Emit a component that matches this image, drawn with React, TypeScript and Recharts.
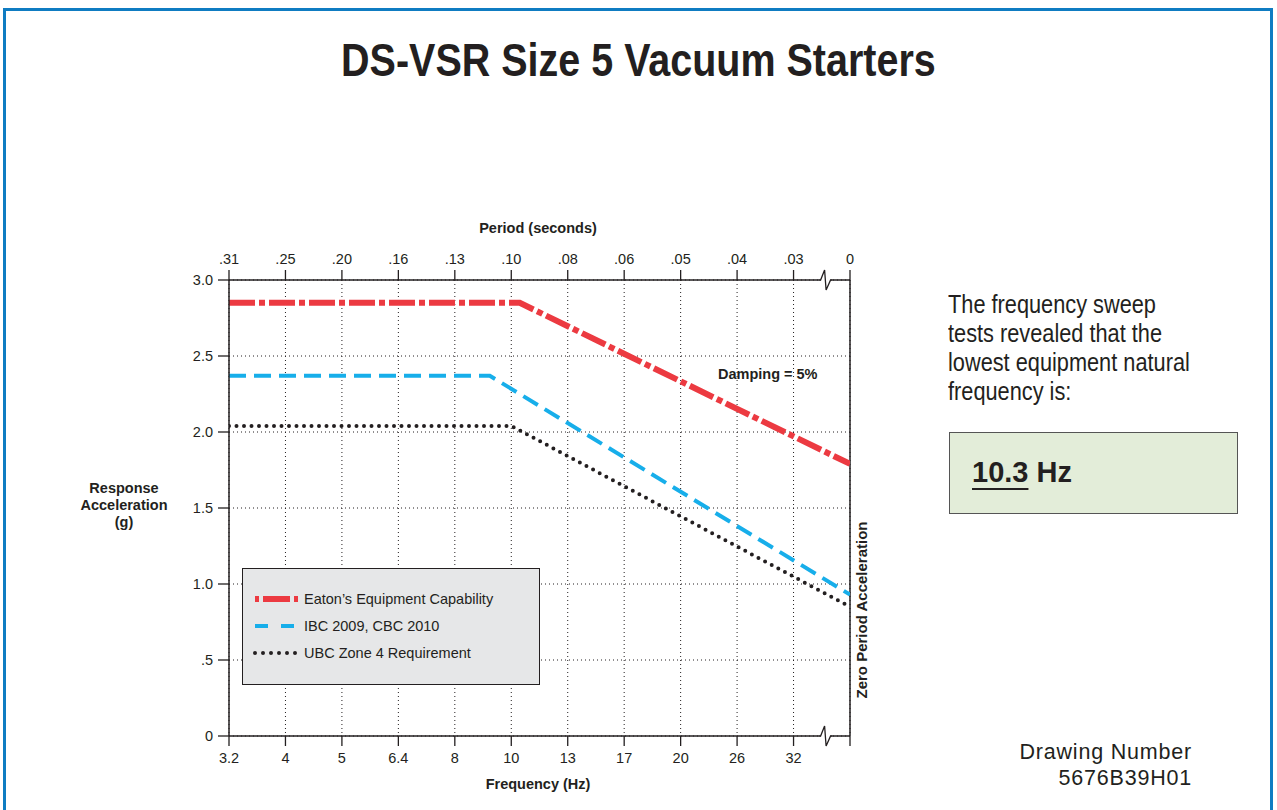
import { LineChart, Line, XAxis, YAxis, CartesianGrid, Legend, ReferenceLine, ReferenceDot } from 'recharts';

// ============================================================================
// Data - x values are positions along the frequency axis (one unit per tick)
// ============================================================================

const freqLabels = ['3.2', '4', '5', '6.4', '8', '10', '13', '17', '20', '26', '32', ''];
const periodLabels = ['.31', '.25', '.20', '.16', '.13', '.10', '.08', '.06', '.05', '.04', '.03', '0'];
const xTicks = freqLabels.map((_, i) => i);
const yTicks = [0, 0.5, 1, 1.5, 2, 2.5, 3];
const axisBreak = 10.55;

const eatonX = [0, 5.15, 11];
const eatonY = [2.85, 2.85, 1.79];
const ibcX = [0, 4.62, 11];
const ibcY = [2.37, 2.37, 0.93];
const ubcX = [0, 5, 11];
const ubcY = [2.04, 2.04, 0.85];

const toPoints = (xs: number[], ys: number[]) => xs.map((x, i) => ({ x, y: ys[i] }));

const series = [
  { name: 'Eaton’s Equipment Capability', data: toPoints(eatonX, eatonY), color: '#ec3a41', width: 6, dash: '26 4 6 4', cap: 'butt', sample: '4 4 27 4 4 60' },
  { name: 'IBC 2009, CBC 2010', data: toPoints(ibcX, ibcY), color: '#17aeea', width: 4, dash: '17 8', cap: 'butt', sample: '13 13' },
  { name: 'UBC Zone 4 Requirement', data: toPoints(ubcX, ubcY), color: '#231f20', width: 4, dash: '0 7.5', cap: 'round', sample: '0 8' },
];

const ink = '#231f20';
const sans = "'Liberation Sans', Arial, Helvetica, sans-serif";

const tickStyle = { fill: ink, fontSize: 14.5, fontFamily: sans };

function AxisBreak(props: any) {
  const { cx, cy } = props;
  return (
    <g>
      <rect x={cx - 4} y={cy - 2} width={10} height={4} fill="#fff" />
      <path d={`M${cx - 5},${cy} L${cx - 4},${cy} L${cx},${cy - 10} L${cx + 1.5},${cy + 10} L${cx + 6},${cy} L${cx + 7},${cy}`} fill="none" stroke={ink} strokeWidth={1.3} />
    </g>
  );
}

function LegendBox() {
  return (
    <div style={{ width: 298, height: 117, background: '#e6e7e8', border: `1.5px solid ${ink}`, boxSizing: 'border-box', paddingTop: 16 }}>
      {series.map((s) => (
        <div key={s.name} style={{ display: 'flex', alignItems: 'center', height: 27, fontFamily: sans, fontSize: 14.5, color: ink }}>
          <svg width={60} height={12} style={{ marginLeft: 10 }}>
            <line x1={2} y1={6} x2={45} y2={6} stroke={s.color} strokeWidth={s.width} strokeDasharray={s.sample} strokeLinecap={s.cap as any} />
          </svg>
          <span style={{ marginLeft: -9 }}>{s.name}</span>
        </div>
      ))}
    </div>
  );
}

export default function App() {
  return (
    <div style={{ position: 'absolute', left: 0, top: 0, width: 1277, height: 810, background: '#fff', overflow: 'hidden', fontFamily: sans, color: ink }}>
      <div style={{ position: 'absolute', left: 3, top: 8, width: 1270, height: 820, borderTop: '3px solid #0f7cc2', borderLeft: '3px solid #0f7cc2', borderRight: '3px solid #0f7cc2', boxSizing: 'border-box' }} />

      <div style={{ position: 'absolute', left: 0, width: 1277, top: 33, textAlign: 'center', fontWeight: 'bold', fontSize: 47, lineHeight: '54px', transform: 'scaleX(0.84)', transformOrigin: '638px 0' }}>
        DS-VSR Size 5 Vacuum Starters
      </div>

      <div style={{ position: 'absolute', left: 0, top: 0 }}>
        <LineChart width={1277} height={810} margin={{ top: 250, right: 427, bottom: 44, left: 189 }}>
          <CartesianGrid strokeDasharray="1 3" stroke={ink} strokeWidth={1} />
          <XAxis
            dataKey="x"
            type="number"
            domain={[0, 11]}
            ticks={xTicks}
            allowDataOverflow
            tickFormatter={(v: number) => freqLabels[v] ?? ''}
            tick={tickStyle}
            tickSize={10}
            tickMargin={7}
            height={30}
            axisLine={{ stroke: ink, strokeWidth: 1.5 }}
            tickLine={{ stroke: ink, strokeWidth: 1.3 }}
          />
          <XAxis
            xAxisId="top"
            orientation="top"
            dataKey="x"
            type="number"
            domain={[0, 11]}
            ticks={xTicks}
            allowDataOverflow
            tickFormatter={(v: number) => periodLabels[v] ?? ''}
            tick={tickStyle}
            tickSize={10}
            tickMargin={6}
            height={30}
            axisLine={{ stroke: ink, strokeWidth: 1.5 }}
            tickLine={{ stroke: ink, strokeWidth: 1.3 }}
          />
          <YAxis
            type="number"
            domain={[0, 3]}
            ticks={yTicks}
            tickFormatter={(v: number) => (v === 0 ? '0' : v < 1 ? '.5' : v.toFixed(1))}
            tick={tickStyle}
            tickSize={11}
            tickMargin={5}
            width={40}
            axisLine={{ stroke: ink, strokeWidth: 1.5 }}
            tickLine={{ stroke: ink, strokeWidth: 1.3 }}
          />
          <ReferenceLine x={11} stroke={ink} strokeWidth={1.5} ifOverflow="visible" />
          {series.map((s) => (
            <Line
              key={s.name}
              data={s.data}
              dataKey="y"
              name={s.name}
              type="linear"
              stroke={s.color}
              strokeWidth={s.width}
              strokeDasharray={s.dash}
              strokeLinecap={s.cap as any}
              dot={false}
              activeDot={false}
              isAnimationActive={false}
            />
          ))}
          <ReferenceDot x={axisBreak} y={0} r={0} ifOverflow="visible" shape={(p: any) => <AxisBreak {...p} />} />
          <ReferenceDot x={axisBreak} y={3} r={0} ifOverflow="visible" shape={(p: any) => <AxisBreak {...p} />} />
          <Legend
            layout="vertical"
            align="center"
            verticalAlign="middle"
            content={() => <LegendBox />}
            wrapperStyle={{ left: 242, top: 568, width: 298, height: 117 }}
          />
        </LineChart>
      </div>

      <div style={{ position: 'absolute', left: 438, width: 200, top: 220, textAlign: 'center', fontWeight: 'bold', fontSize: 14.5 }}>Period (seconds)</div>
      <div style={{ position: 'absolute', left: 438, width: 200, top: 776, textAlign: 'center', fontWeight: 'bold', fontSize: 14.5 }}>Frequency (Hz)</div>
      <div style={{ position: 'absolute', left: 54, width: 140, top: 480, textAlign: 'center', fontWeight: 'bold', fontSize: 14.5, lineHeight: '17px' }}>
        Response<br />Acceleration<br />(g)
      </div>
      <div style={{ position: 'absolute', left: 718, top: 366, fontWeight: 'bold', fontSize: 14.5 }}>Damping = 5%</div>
      <div style={{ position: 'absolute', left: 862, top: 610, width: 0, height: 0 }}>
        <div style={{ position: 'absolute', left: -100, top: -9, width: 200, textAlign: 'center', fontWeight: 'bold', fontSize: 15, lineHeight: '18px', transform: 'rotate(-90deg)', whiteSpace: 'nowrap' }}>
          Zero Period Acceleration
        </div>
      </div>

      <div style={{ position: 'absolute', left: 948, top: 290, fontSize: 25, lineHeight: '29px', whiteSpace: 'nowrap', transform: 'scaleX(0.87)', transformOrigin: '0 0' }}>
        The frequency sweep<br />tests revealed that the<br />lowest equipment natural<br />frequency is:
      </div>
      <div style={{ position: 'absolute', left: 949, top: 432, width: 289, height: 82, background: '#e3edd9', border: '1.5px solid #555', boxSizing: 'border-box' }}>
        <div style={{ position: 'absolute', left: 22, top: 22, fontWeight: 'bold', fontSize: 29, lineHeight: '34px' }}>
          <span style={{ textDecoration: 'underline', textUnderlineOffset: 6, textDecorationThickness: 1.5 }}>10.3</span> Hz
        </div>
      </div>

      <div style={{ position: 'absolute', right: 85, top: 739, textAlign: 'right', fontSize: 21.5, lineHeight: '26px', letterSpacing: 0.8 }}>
        Drawing Number<br />5676B39H01
      </div>
    </div>
  );
}
